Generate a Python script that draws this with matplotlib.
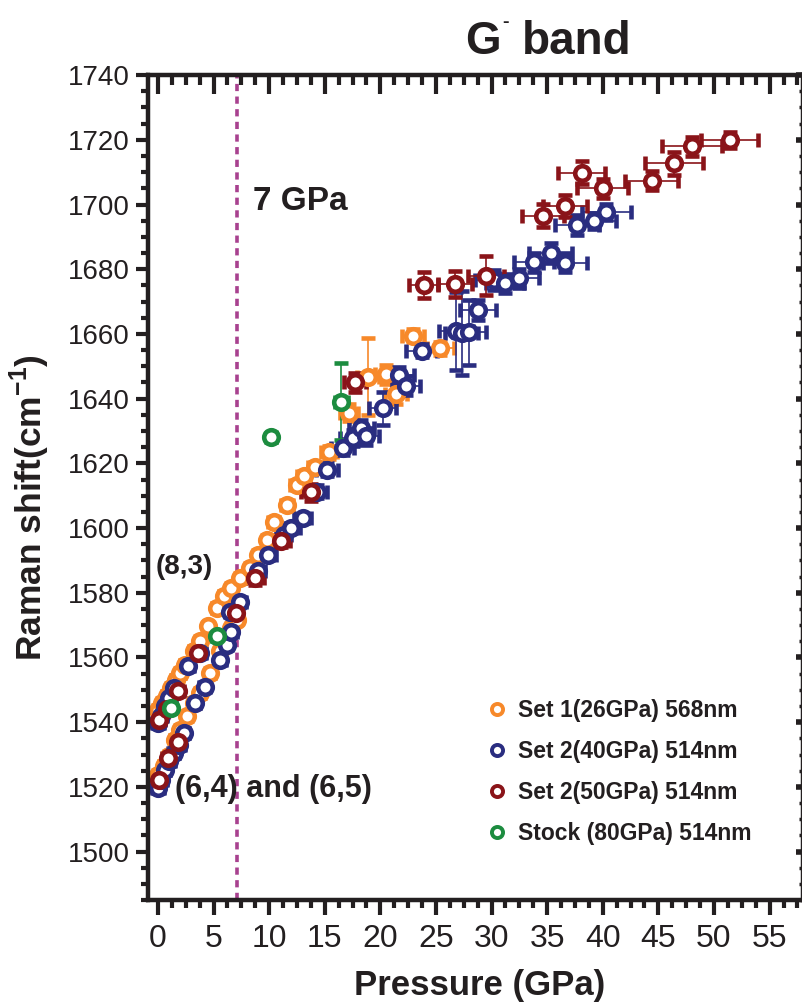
import matplotlib
matplotlib.use('Agg')
import matplotlib.pyplot as plt
from matplotlib.ticker import MultipleLocator
from matplotlib.lines import Line2D

plt.rcParams['font.family'] = ['Liberation Sans', 'DejaVu Sans']
plt.rcParams['mathtext.fontset'] = 'custom'
plt.rcParams['mathtext.bf'] = 'Liberation Sans:bold'
plt.rcParams['mathtext.rm'] = 'Liberation Sans'

# Set 1 (26GPa) 568nm - orange
set1_p = [0.0, 0.4, 0.8, 1.2, 1.6, 2.0, 2.4, 3.2, 3.8, 4.5, 5.3, 5.9, 6.6, 7.4, 8.3, 9.0, 9.8,
          10.4, 11.6, 12.5, 13.1, 14.1, 15.4, 17.2, 18.9, 20.5, 21.4, 22.9, 25.4,
          0.0, 0.5, 1.0, 1.5, 2.0, 2.6, 3.2, 3.8, 4.7, 5.6, 6.6, 7.1]
set1_w = [1543.9, 1546.0, 1548.0, 1550.5, 1553.0, 1555.2, 1557.8, 1561.9, 1565.0, 1569.6, 1575.3,
          1578.9, 1581.4, 1584.5, 1587.6, 1591.7, 1596.4, 1602.0, 1607.2, 1613.4, 1616.0,
          1619.0, 1623.5, 1635.7, 1646.8, 1647.5, 1641.4, 1659.5, 1655.6,
          1523.8, 1526.5, 1529.5, 1534.6, 1537.7, 1541.8, 1546.0, 1549.0, 1555.2, 1561.9,
          1569.1, 1571.7]
set1_xerr = [0.4] * 17 + [0.5, 0.5, 0.6, 0.6, 0.6, 0.7, 0.8, 1.0, 1.0, 1.0, 1.0, 1.2] + [0.4] * 12
set1_yerr = [1.5] * 17 + [1.5, 1.5, 1.5, 1.5, 1.5, 2.0, 2.5, 12.0, 3.0, 3.0, 2.0, 2.0] + [1.5] * 12

# Set 2 (40GPa) 514nm - navy
set2a_p = [0.0, 0.3, 0.6, 1.0, 1.4, 2.7, 3.8, 6.5,
           0.0, 0.3, 0.6, 1.0, 1.4, 1.9, 2.3, 3.3, 4.2, 5.6, 6.2, 6.6, 7.4,
           9.0, 9.9, 11.3, 12.0, 13.0, 14.3, 15.2, 16.6, 17.5, 18.3, 18.7, 20.2, 21.7,
           22.3, 23.7, 26.8, 27.3, 28.0, 28.8, 30.2, 31.2, 32.5, 33.8, 35.3, 36.6,
           37.7, 39.2, 40.3]
set2a_w = [1539.8, 1542.0, 1545.0, 1547.5, 1550.6, 1557.3, 1561.4, 1574.2,
           1519.7, 1522.0, 1525.3, 1528.0, 1530.5, 1533.0, 1536.7, 1546.0, 1551.0, 1559.3,
           1564.0, 1568.0, 1577.3,
           1586.6, 1591.7, 1598.0, 1600.0, 1603.0, 1611.3, 1618.0, 1624.7, 1627.8, 1631.0,
           1628.3, 1637.0, 1647.3, 1644.0, 1654.8, 1661.0, 1660.2, 1660.5, 1667.4, 1676.7,
           1675.6, 1677.2, 1682.1, 1685.0, 1682.0, 1693.7, 1695.0, 1697.6]
set2a_xerr = [0.5] * 21 + [0.6, 0.7, 0.7, 0.8, 0.8, 0.9, 1.0, 1.0, 1.1, 1.1, 1.2, 1.2, 1.3,
                           1.3, 1.4, 1.5, 1.5, 1.5, 1.6, 1.7, 1.7, 1.8, 1.8, 1.9, 2.0,
                           2.0, 2.0, 2.2]
set2a_yerr = [1.5] * 21 + [1.5, 1.5, 1.5, 1.5, 1.5, 2.0, 2.0, 2.0, 2.5, 2.5, 2.5, 5.0, 2.5,
                           3.0, 2.0, 12.0, 13.0, 10.0, 3.0, 3.0, 3.0, 3.0, 3.0, 3.0, 3.0,
                           3.0, 2.5, 2.5]

# Set 2 (50GPa) 514nm - dark red
set2b_p = [0.1, 0.8, 1.8, 3.6, 0.1, 0.9, 1.8, 7.0, 8.7, 11.1, 13.8, 17.7, 23.9, 26.7,
           29.5, 34.6, 36.6, 38.1, 40.0, 44.4, 46.4, 48.0, 51.4]
set2b_w = [1540.8, 1544.0, 1549.5, 1561.4, 1522.2, 1529.0, 1534.0, 1573.7, 1584.5, 1596.0,
           1611.0, 1645.0, 1675.0, 1675.4, 1678.0, 1696.6, 1699.5, 1709.8, 1705.0, 1707.4,
           1712.7, 1718.0, 1720.0]
set2b_xerr = [0.5, 0.5, 0.5, 0.5, 0.5, 0.5, 0.5, 0.6, 0.8, 0.8, 0.9, 1.0, 1.3, 1.5,
              1.6, 1.9, 2.0, 2.1, 2.3, 2.4, 2.6, 2.7, 2.6]
set2b_yerr = [1.5] * 8 + [2.0, 2.0, 2.5, 3.0, 4.0, 4.0, 6.0, 3.5, 3.5, 3.5, 3.0, 3.0,
                          3.5, 3.0, 2.5]

# Stock (80GPa) 514nm - green
stock_p = [1.2, 5.3, 10.2, 16.5]
stock_w = [1544.4, 1566.5, 1628.0, 1639.1]
stock_xerr = [0.4, 0.4, 0.4, 0.6]
stock_yerr = [1.5, 1.5, 1.5, 12.0]

series = [
    ('Set 1(26GPa) 568nm', set1_p, set1_w, set1_xerr, set1_yerr, '#f7892a'),
    ('Set 2(40GPa) 514nm', set2a_p, set2a_w, set2a_xerr, set2a_yerr, '#2a2d80'),
    ('Set 2(50GPa) 514nm', set2b_p, set2b_w, set2b_xerr, set2b_yerr, '#8a1419'),
    ('Stock (80GPa) 514nm', stock_p, stock_w, stock_xerr, stock_yerr, '#1c8c3f'),
]

ink = '#231f20'

fig = plt.figure(figsize=(8.02, 10.08), dpi=100)
ax = fig.add_axes([0.1845, 0.107, 0.8167, 0.8185])

handles = []
for label, p, w, xe, ye, c in series:
    ax.errorbar(p, w, xerr=xe, yerr=ye, fmt='o', ms=10.5, mfc='white', mec=c, mew=3.3,
                ecolor=c, elinewidth=1.2, capsize=5, capthick=1.2, zorder=3)
    handles.append(Line2D([], [], ls='none', marker='o', ms=8, mfc='white', mec=c, mew=2.8,
                          label=label))

ax.axvline(7.1, color='#a8418f', ls=(0, (2, 1.5)), lw=2.6, zorder=2)

ax.set_xlim(-0.9, 58)
ax.set_ylim(1485, 1740)
ax.xaxis.set_major_locator(MultipleLocator(5))
ax.xaxis.set_minor_locator(MultipleLocator(1.25))
ax.yaxis.set_major_locator(MultipleLocator(20))
ax.yaxis.set_minor_locator(MultipleLocator(5))

for s in ax.spines.values():
    s.set_linewidth(3)
    s.set_color(ink)

ax.tick_params(axis='x', which='major', direction='out', length=11, width=3, top=False,
               pad=6, color=ink, labelsize=23, labelcolor=ink)
ax.tick_params(axis='x', which='minor', direction='out', length=6, width=3, top=False,
               color=ink)
ax.tick_params(axis='y', which='major', direction='out', length=9, width=3, right=False,
               pad=4, color=ink, labelsize=20, labelcolor=ink)
ax.tick_params(axis='y', which='minor', direction='out', length=5, width=3, right=False,
               color=ink)

# inward ticks on top and right
ax_top = ax.twiny()
ax_top.set_xlim(ax.get_xlim())
ax_top.xaxis.set_major_locator(MultipleLocator(5))
ax_top.xaxis.set_minor_locator(MultipleLocator(1.25))
ax_top.tick_params(axis='x', which='major', direction='in', length=14, width=3, color=ink,
                   labeltop=False, labelbottom=False, top=True, bottom=False)
ax_top.tick_params(axis='x', which='minor', direction='in', length=7, width=3, color=ink,
                   top=True, bottom=False)
ax_top.tick_params(axis='y', left=False, right=False, labelleft=False, labelright=False)

ax_right = ax.twinx()
ax_right.set_ylim(ax.get_ylim())
ax_right.yaxis.set_major_locator(MultipleLocator(20))
ax_right.yaxis.set_minor_locator(MultipleLocator(5))
ax_right.tick_params(axis='y', which='major', direction='in', length=5, width=4, color=ink,
                     labelright=False, labelleft=False, right=True, left=False)
ax_right.tick_params(axis='y', which='minor', direction='in', length=3, width=2.5, color=ink,
                     right=True, left=False)
ax_right.tick_params(axis='x', top=False, bottom=False, labeltop=False, labelbottom=False)
for a in (ax_top, ax_right):
    for s in a.spines.values():
        s.set_linewidth(3)
        s.set_color(ink)

ax.set_xlabel('Pressure (GPa)', fontsize=25, fontweight='bold', color=ink, va='top')
ax.xaxis.set_label_coords(0.507, -0.083)
ax.set_ylabel('Raman shift(cm$^{\\mathbf{-1}}$)', fontsize=25.5, fontweight='bold', color=ink)
ax.yaxis.set_label_coords(-0.147, 0.476)

# title "G- band"
fig.text(465 / 802, 1 - 54 / 1008, 'G', fontsize=33, fontweight='bold', color=ink,
         ha='left', va='baseline')
fig.text(502 / 802, 1 - 27 / 1008, '-', fontsize=14, fontweight='bold', color=ink,
         ha='left', va='baseline')
fig.text(522 / 802, 1 - 54 / 1008, 'band', fontsize=33, fontweight='bold', color=ink,
         ha='left', va='baseline')

ax.text(8.5, 1701, '7 GPa', fontsize=24, fontweight='bold', color=ink, va='center')
ax.text(-0.2, 1588, '(8,3)', fontsize=20, fontweight='bold', color=ink, va='center')
ax.text(1.5, 1519.5, '(6,4) and (6,5)', fontsize=22, fontweight='bold', color=ink,
        va='center')

ax.legend(handles=handles, loc='upper left', bbox_to_anchor=(0.5015, 0.255), frameon=False,
          prop={'weight': 'bold', 'size': 16.5}, handletextpad=0.4, labelspacing=0.78,
          handlelength=1.0, borderaxespad=0, labelcolor=ink)

fig.savefig('out.png', dpi=100)
